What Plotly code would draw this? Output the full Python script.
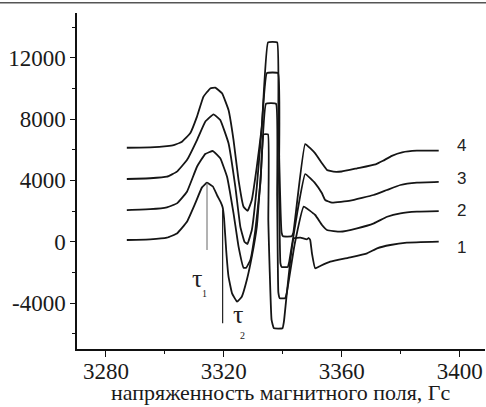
import plotly.graph_objects as go

# ---- data (field in Gauss, signal in arb. units) ----
x1 = [3287.1, 3295, 3300.7, 3304.1, 3307.5, 3310.3, 3312.6, 3314.3, 3316.3, 3317.8, 3318.9, 3319.6,
      3320.1, 3320.8, 3321.6, 3322.8, 3324.5, 3326.1, 3327.8, 3329.5, 3331.2, 3332.6, 3333.5, 3335.0,
      3335.1, 3336.2, 3337.0, 3339.9, 3340.4, 3343.7, 3346.0, 3348.2, 3348.8, 3349.3, 3349.9, 3351.0,
      3352.7, 3356.1, 3362.9, 3368.6, 3372.0, 3376.5, 3382.1, 3392.9]
y1 = [110, 150, 260, 540, 1300, 2500, 3545, 3850, 3600, 3000, 2600, 2250,
      1500, -540, -2283, -3366, -3914, -3588, -2500, -978, 978, 4500, 7000, 7000,
      1400, -5100, -5650, -5650, -5200, 222, 260, 157, 240, 120, -757, -1735,
      -1585, -1305, -1018, -757, -431, -215, -65, 0]

x2 = [3287.1, 3295, 3300.7, 3304.1, 3307.5, 3310.9, 3313.7, 3316.3, 3318.8, 3321.1, 3323.3, 3325.0,
      3326.7, 3327.6, 3329.0, 3330.7, 3332.4, 3334.3, 3337.7, 3338.1, 3338.5, 3339.0, 3340.8, 3341.4,
      3344.0, 3347.1, 3351.0, 3353.3, 3355.0, 3359.5, 3365.2, 3370.9, 3375.4, 3379.9, 3385.5, 3392.9]
y2 = [2066, 2120, 2240, 2500, 3260, 4890, 5720, 5916, 5440, 4240, 1850, -326,
      -1700, -1700, -1196, 760, 3800, 9000, 9000, 3000, -3300, -3690, -3690, -3300,
      -200, 2283, 1742, 1089, 763, 652, 874, 1200, 1630, 1853, 1957, 1990]

x3 = [3287.1, 3295, 3300.7, 3304.1, 3307.5, 3310.9, 3313.7, 3316.5, 3318.8, 3321.6, 3323.9, 3325.6,
      3327.0, 3328.0, 3329.5, 3331.2, 3332.8, 3334.6, 3338.4, 3338.7, 3339.2, 3339.6, 3341.7, 3342.2,
      3345.0, 3347.6, 3351.0, 3353.3, 3354.4, 3356.7, 3362.9, 3370.8, 3375.3, 3379.9, 3385.5, 3392.9]
y3 = [4090, 4140, 4240, 4570, 5330, 6630, 7830, 8310, 7940, 6420, 3590, 980,
      0, -150, 760, 3590, 7300, 11000, 11000, 4000, -1400, -1650, -1650, -1300,
      2000, 4416, 3810, 3157, 2720, 2544, 2675, 3046, 3373, 3699, 3849, 3900]

x4 = [3287.1, 3295, 3300.7, 3303.0, 3305.8, 3308.6, 3310.9, 3313.1, 3315.4, 3317.1, 3319.4, 3321.6,
      3323.3, 3325.0, 3326.7, 3328.1, 3329.5, 3331.2, 3332.9, 3335.0, 3338.1, 3338.5, 3339.6, 3340.1,
      3343.0, 3343.6, 3347.6, 3351.0, 3353.3, 3355.0, 3357.2, 3360.0, 3365.2, 3371.5, 3374.0, 3377.0,
      3380.5, 3385.5, 3392.9]
y4 = [6130, 6150, 6230, 6300, 6525, 7070, 8160, 9460, 10000, 10050, 9680, 8590,
      6630, 4020, 2280, 2020, 2720, 4890, 7500, 13000, 13000, 8000, 600, 350,
      350, 600, 6370, 5766, 5114, 4677, 4566, 4580, 4788, 5050, 5280, 5600,
      5830, 5936, 5936]

curve_labels = ["1", "2", "3", "4"]
label_x = [3400.5, 3400.5, 3400.5, 3400.5]
label_y = [-365, 2022, 4136, 6262]

tau_names = ["τ", "τ"]
tau_subs = ["1", "2"]
tau_line_x = [3314.3, 3319.6]
tau_line_top = [3850, 2068]
tau_line_bottom = [-540, -5323]
tau_text_x = [3310.9, 3324.8]
tau_text_y = [-2390, -4780]
tau_sub_x = [3313.5, 3326.4]
tau_sub_y = [-3370, -6150]

x_ticks = [3280, 3320, 3360, 3400]
y_ticks = [-4000, 0, 4000, 8000, 12000]
x_title = "напряженность магнитного поля, Гс"

SERIF = "Liberation Serif"
SANS = "Liberation Sans"

# ---- figure ----
fig = go.Figure()
for xs, ys in [(x1, y1), (x2, y2), (x3, y3), (x4, y4)]:
    fig.add_trace(go.Scatter(x=xs, y=ys, mode="lines",
                             line=dict(color="#151515", width=1.8, shape="spline", smoothing=0.3),
                             hoverinfo="skip", showlegend=False))

# tau marker lines
fig.add_trace(go.Scatter(x=[tau_line_x[0], tau_line_x[0]], y=[tau_line_top[0], tau_line_bottom[0]],
                         mode="lines", line=dict(color="#666666", width=1), showlegend=False))
fig.add_trace(go.Scatter(x=[tau_line_x[1], tau_line_x[1]], y=[tau_line_top[1], tau_line_bottom[1]],
                         mode="lines", line=dict(color="#222222", width=1.2), showlegend=False))

for t, xx, yy in zip(curve_labels, label_x, label_y):
    fig.add_annotation(x=xx, y=yy, text=t, showarrow=False,
                       font=dict(family=SANS, size=17, color="#222"))
for t, xx, yy in zip(tau_names, tau_text_x, tau_text_y):
    fig.add_annotation(x=xx, y=yy, text=t, showarrow=False,
                       font=dict(family=SERIF, size=26, color="#222"))
for t, xx, yy in zip(tau_subs, tau_sub_x, tau_sub_y):
    fig.add_annotation(x=xx, y=yy, text=t, showarrow=False,
                       font=dict(family=SERIF, size=10, color="#222"))

# x-axis title (placed as annotation for exact vertical position)
fig.add_annotation(xref="paper", yref="paper", x=0.5, y=(349 - 392.5) / 336,
                   xanchor="center", yanchor="middle", showarrow=False, text=x_title,
                   font=dict(family=SERIF, size=22, color="#1a1a1a"))

# top rule of the page
fig.add_shape(type="line", xref="paper", yref="paper",
              x0=-77 / 408, x1=1 + 1 / 408, y0=(349 - 2.7) / 336, y1=(349 - 2.7) / 336,
              line=dict(color="#555555", width=1.5))

fig.update_layout(
    template="none",
    width=486, height=407,
    margin=dict(l=77, r=1, t=13, b=58, pad=0),
    paper_bgcolor="white", plot_bgcolor="white",
    font=dict(family=SERIF, color="#1a1a1a"),
)
fig.update_xaxes(
    automargin=False,
    range=[3270.2, 3408.6], tickvals=x_ticks, ticktext=[str(v) for v in x_ticks],
    showgrid=False, zeroline=False, showline=True, linecolor="#111", linewidth=1.5,
    ticks="outside", ticklen=6, tickwidth=1.2, tickcolor="#111",
    ticklabelstandoff=-5,
    minor=dict(tickvals=[3300, 3340, 3380], ticks="outside", ticklen=3, tickwidth=1.2, tickcolor="#111"),
    tickfont=dict(family=SERIF, size=23, color="#1a1a1a"),
)
fig.update_yaxes(
    automargin=False,
    range=[-7000, 14920], tickvals=y_ticks, ticktext=[str(v) for v in y_ticks],
    showgrid=False, zeroline=False, showline=True, linecolor="#111", linewidth=1.5,
    ticks="outside", ticklen=5, tickwidth=1.2, tickcolor="#111",
    minor=dict(tickvals=[-6000, -2000, 2000, 6000, 10000, 14000], ticks="outside", ticklen=3,
               tickwidth=1.2, tickcolor="#111"),
    tickfont=dict(family=SERIF, size=23, color="#1a1a1a"),
)

fig.write_html("out.html", config={"displayModeBar": False},
               post_script="document.body.style.margin='0';document.body.style.padding='0';"
                           "document.body.style.overflow='hidden';")
